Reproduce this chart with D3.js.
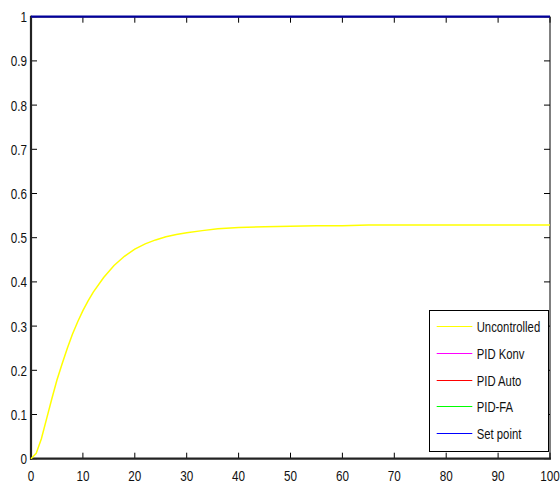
<!DOCTYPE html>
<html><head><meta charset="utf-8">
<script src="https://cdn.jsdelivr.net/npm/d3@7"></script>
<style>
html,body{margin:0;padding:0;background:#fff;}
svg text{font-family:"Liberation Sans",Arial,sans-serif;fill:#111;}
</style></head>
<body><svg id="c" width="560" height="481"></svg>
<script>
// Data
const time = [0,1,2,3,4,5,6,7,8,9,10,11,12,14,16,18,20,22,24,26,28,30,33,36,40,45,50,55,60,65,70,80,90,100];
const uncontrolled = [0,0.012,0.045,0.09,0.135,0.178,0.215,0.25,0.282,0.31,0.335,0.357,0.377,0.41,0.437,0.458,0.474,0.486,0.495,0.502,0.507,0.511,0.516,0.52,0.523,0.525,0.526,0.527,0.527,0.529,0.529,0.529,0.529,0.529];
const setTime = [0,100];
const setPoint = [1,1];
const pidKonv = [1,1];
const pidAuto = [1,1];
const pidFA = [1,1];
const xTicks = [0,10,20,30,40,50,60,70,80,90,100];
const yTicks = [0,0.1,0.2,0.3,0.4,0.5,0.6,0.7,0.8,0.9,1];
const yTickLabels = ["0","0.1","0.2","0.3","0.4","0.5","0.6","0.7","0.8","0.9","1"];
const legendNames = ["Uncontrolled","PID Konv","PID Auto","PID-FA","Set point"];
const legendColors = ["#ffff00","#ff00ff","#ff0000","#00ff00","#0000ff"];

const L=31, R=550, T=16.7, B=458.7;
const svg=d3.select("#c");
const x=d3.scaleLinear().domain([0,100]).range([L,R]);
const y=d3.scaleLinear().domain([0,1]).range([B,T]);

function txt(px,py,s,size,anchor,dy){
  svg.append("text").attr("transform",`translate(${px},${py}) scale(0.78,1)`)
    .attr("text-anchor",anchor).attr("dy",dy).attr("font-size",size).text(s);
}

// ticks (inward)
const tl=6;
const g=svg.append("g");
xTicks.forEach(v=>{
  g.append("line").attr("x1",x(v)).attr("x2",x(v)).attr("y1",B).attr("y2",B-tl).attr("stroke","#000");
  g.append("line").attr("x1",x(v)).attr("x2",x(v)).attr("y1",T).attr("y2",T+tl).attr("stroke","#000");
  txt(x(v),480.5,String(v),15,"middle","0");
});
yTicks.forEach((v,i)=>{
  g.append("line").attr("x1",L).attr("x2",L+tl).attr("y1",y(v)).attr("y2",y(v)).attr("stroke","#000");
  g.append("line").attr("x1",R).attr("x2",R-tl).attr("y1",y(v)).attr("y2",y(v)).attr("stroke","#000");
  txt(27,y(v),yTickLabels[i],15,"end","0.36em");
});

// axes box
svg.append("line").attr("x1",L).attr("x2",R).attr("y1",T).attr("y2",T).attr("stroke","#000");
svg.append("line").attr("x1",R).attr("x2",R).attr("y1",T).attr("y2",B).attr("stroke","#000");
svg.append("line").attr("x1",L).attr("x2",L).attr("y1",T-1).attr("y2",B+1).attr("stroke","#222").attr("stroke-width",2.2);
svg.append("line").attr("x1",L-1).attr("x2",R+1).attr("y1",B).attr("y2",B).attr("stroke","#222").attr("stroke-width",2.2);

const line=d3.line().x(d=>x(d[0])).y(d=>y(d[1]));
function draw(t,v,c,w){
  svg.append("path").datum(t.map((tt,i)=>[tt,v[i]])).attr("d",line).attr("fill","none").attr("stroke",c).attr("stroke-width",w);
}
draw(time,uncontrolled,"#ffff00",1.5);
draw(setTime,pidKonv,"#ff00ff",1);
draw(setTime,pidAuto,"#ff0000",1);
draw(setTime,pidFA,"#00ff00",1);
draw(setTime,setPoint,"#00009c",2.2);

// legend
const lx=429, ly=310, lw=119, lh=141;
svg.append("rect").attr("x",lx+0.5).attr("y",ly+0.5).attr("width",lw).attr("height",lh).attr("fill","#fff").attr("stroke","#000");
legendNames.forEach((n,i)=>{
  const yy=Math.round(325.7+i*26.9)+0.5;
  svg.append("line").attr("x1",436.7).attr("x2",472.3).attr("y1",yy).attr("y2",yy).attr("stroke",legendColors[i]).attr("stroke-width",1);
  txt(476.7,yy,n,14.5,"start","0.36em");
});
</script></body></html>
